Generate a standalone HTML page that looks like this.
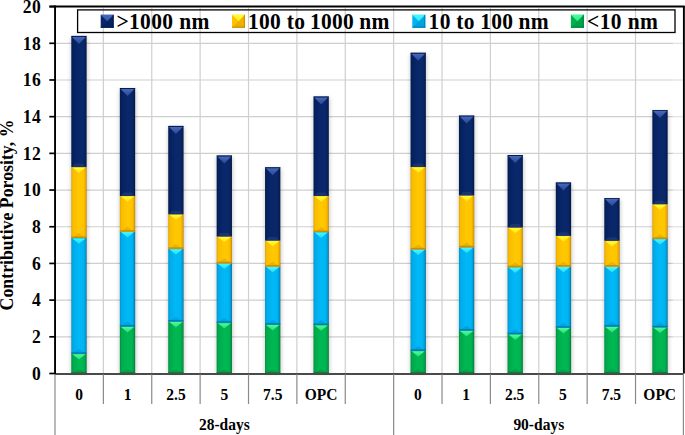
<!DOCTYPE html><html><head><meta charset="utf-8"><style>
html,body{margin:0;padding:0;background:#fff;}body{width:685px;height:435px;overflow:hidden;}
svg{display:block;}text{font-family:"Liberation Serif",serif;font-weight:bold;fill:#000;}
</style></head><body>
<svg width="685" height="435" viewBox="0 0 685 435">
<defs>
<linearGradient id="tg" x1="0" y1="0" x2="0" y2="1"><stop offset="0" stop-color="#48ff98"/><stop offset="1" stop-color="#48ff98" stop-opacity="0.5"/></linearGradient>
<linearGradient id="mg" x1="0" y1="0" x2="0" y2="1"><stop offset="0" stop-color="#48ff98"/><stop offset="1" stop-color="#48ff98" stop-opacity="0.7"/></linearGradient>
<linearGradient id="hg" x1="0" y1="0" x2="1" y2="0"><stop offset="0" stop-color="#008a3e"/><stop offset="0.1" stop-color="#00a94c"/><stop offset="0.5" stop-color="#00b853"/><stop offset="0.8" stop-color="#00b452"/><stop offset="0.93" stop-color="#009c46"/><stop offset="1" stop-color="#00702f"/></linearGradient>
<linearGradient id="tc" x1="0" y1="0" x2="0" y2="1"><stop offset="0" stop-color="#48f8ff"/><stop offset="1" stop-color="#48f8ff" stop-opacity="0.5"/></linearGradient>
<linearGradient id="mc" x1="0" y1="0" x2="0" y2="1"><stop offset="0" stop-color="#48f8ff"/><stop offset="1" stop-color="#48f8ff" stop-opacity="0.7"/></linearGradient>
<linearGradient id="hc" x1="0" y1="0" x2="1" y2="0"><stop offset="0" stop-color="#0090cc"/><stop offset="0.1" stop-color="#00aae8"/><stop offset="0.5" stop-color="#00b9f8"/><stop offset="0.8" stop-color="#00b4f2"/><stop offset="0.93" stop-color="#0098d0"/><stop offset="1" stop-color="#006890"/></linearGradient>
<linearGradient id="ty" x1="0" y1="0" x2="0" y2="1"><stop offset="0" stop-color="#ffff30"/><stop offset="1" stop-color="#ffff30" stop-opacity="0.5"/></linearGradient>
<linearGradient id="my" x1="0" y1="0" x2="0" y2="1"><stop offset="0" stop-color="#ffff30"/><stop offset="1" stop-color="#ffff30" stop-opacity="0.7"/></linearGradient>
<linearGradient id="hy" x1="0" y1="0" x2="1" y2="0"><stop offset="0" stop-color="#dca200"/><stop offset="0.1" stop-color="#f8bc00"/><stop offset="0.5" stop-color="#ffc800"/><stop offset="0.8" stop-color="#ffc400"/><stop offset="0.93" stop-color="#eaa800"/><stop offset="1" stop-color="#b88200"/></linearGradient>
<linearGradient id="tn" x1="0" y1="0" x2="0" y2="1"><stop offset="0" stop-color="#4868bc"/><stop offset="1" stop-color="#4868bc" stop-opacity="0.5"/></linearGradient>
<linearGradient id="mn" x1="0" y1="0" x2="0" y2="1"><stop offset="0" stop-color="#4868bc"/><stop offset="1" stop-color="#4868bc" stop-opacity="0.7"/></linearGradient>
<linearGradient id="hn" x1="0" y1="0" x2="1" y2="0"><stop offset="0" stop-color="#031a50"/><stop offset="0.1" stop-color="#05205e"/><stop offset="0.5" stop-color="#09286c"/><stop offset="0.8" stop-color="#092768"/><stop offset="0.93" stop-color="#051f58"/><stop offset="1" stop-color="#02143c"/></linearGradient>
<filter id="sh" x="-50%" y="-5%" width="200%" height="110%"><feGaussianBlur stdDeviation="1.9"/></filter>
</defs>
<line x1="56" y1="336.81" x2="673.5" y2="336.81" stroke="#cfcfcf" stroke-width="1.2"/>
<line x1="673.5" y1="336.81" x2="683" y2="336.81" stroke="#e2e2e2" stroke-width="1.2"/>
<line x1="56" y1="300.12" x2="673.5" y2="300.12" stroke="#cfcfcf" stroke-width="1.2"/>
<line x1="673.5" y1="300.12" x2="683" y2="300.12" stroke="#e2e2e2" stroke-width="1.2"/>
<line x1="56" y1="263.43" x2="673.5" y2="263.43" stroke="#cfcfcf" stroke-width="1.2"/>
<line x1="673.5" y1="263.43" x2="683" y2="263.43" stroke="#e2e2e2" stroke-width="1.2"/>
<line x1="56" y1="226.74" x2="673.5" y2="226.74" stroke="#cfcfcf" stroke-width="1.2"/>
<line x1="673.5" y1="226.74" x2="683" y2="226.74" stroke="#e2e2e2" stroke-width="1.2"/>
<line x1="56" y1="190.05" x2="673.5" y2="190.05" stroke="#cfcfcf" stroke-width="1.2"/>
<line x1="673.5" y1="190.05" x2="683" y2="190.05" stroke="#e2e2e2" stroke-width="1.2"/>
<line x1="56" y1="153.36" x2="673.5" y2="153.36" stroke="#cfcfcf" stroke-width="1.2"/>
<line x1="673.5" y1="153.36" x2="683" y2="153.36" stroke="#e2e2e2" stroke-width="1.2"/>
<line x1="56" y1="116.67" x2="673.5" y2="116.67" stroke="#cfcfcf" stroke-width="1.2"/>
<line x1="673.5" y1="116.67" x2="683" y2="116.67" stroke="#e2e2e2" stroke-width="1.2"/>
<line x1="56" y1="79.98" x2="673.5" y2="79.98" stroke="#cfcfcf" stroke-width="1.2"/>
<line x1="673.5" y1="79.98" x2="683" y2="79.98" stroke="#e2e2e2" stroke-width="1.2"/>
<line x1="56" y1="43.29" x2="673.5" y2="43.29" stroke="#cfcfcf" stroke-width="1.2"/>
<line x1="673.5" y1="43.29" x2="683" y2="43.29" stroke="#e2e2e2" stroke-width="1.2"/>
<line x1="103.38" y1="7.4" x2="103.38" y2="373" stroke="#cfcfcf" stroke-width="1.2"/>
<line x1="151.75" y1="7.4" x2="151.75" y2="373" stroke="#cfcfcf" stroke-width="1.2"/>
<line x1="200.13" y1="7.4" x2="200.13" y2="373" stroke="#cfcfcf" stroke-width="1.2"/>
<line x1="248.51" y1="7.4" x2="248.51" y2="373" stroke="#cfcfcf" stroke-width="1.2"/>
<line x1="296.88" y1="7.4" x2="296.88" y2="373" stroke="#cfcfcf" stroke-width="1.2"/>
<line x1="345.26" y1="7.4" x2="345.26" y2="373" stroke="#cfcfcf" stroke-width="1.2"/>
<line x1="393.64" y1="7.4" x2="393.64" y2="373" stroke="#cfcfcf" stroke-width="1.2"/>
<line x1="442.02" y1="7.4" x2="442.02" y2="373" stroke="#cfcfcf" stroke-width="1.2"/>
<line x1="490.39" y1="7.4" x2="490.39" y2="373" stroke="#cfcfcf" stroke-width="1.2"/>
<line x1="538.77" y1="7.4" x2="538.77" y2="373" stroke="#cfcfcf" stroke-width="1.2"/>
<line x1="587.15" y1="7.4" x2="587.15" y2="373" stroke="#cfcfcf" stroke-width="1.2"/>
<line x1="635.52" y1="7.4" x2="635.52" y2="373" stroke="#cfcfcf" stroke-width="1.2"/>
<rect x="71.1" y="37.4" width="16.3" height="336.1" fill="#000" opacity="0.22" filter="url(#sh)"/>
<rect x="119.65" y="89.5" width="16.3" height="284" fill="#000" opacity="0.22" filter="url(#sh)"/>
<rect x="168.05" y="127.4" width="16.3" height="246.1" fill="#000" opacity="0.22" filter="url(#sh)"/>
<rect x="216.45" y="156.9" width="16.3" height="216.6" fill="#000" opacity="0.22" filter="url(#sh)"/>
<rect x="264.85" y="168.7" width="16.3" height="204.8" fill="#000" opacity="0.22" filter="url(#sh)"/>
<rect x="313.3" y="97.9" width="16.3" height="275.6" fill="#000" opacity="0.22" filter="url(#sh)"/>
<rect x="410.35" y="54.2" width="16.3" height="319.3" fill="#000" opacity="0.22" filter="url(#sh)"/>
<rect x="458.75" y="117" width="16.3" height="256.5" fill="#000" opacity="0.22" filter="url(#sh)"/>
<rect x="507.35" y="156.5" width="16.3" height="217" fill="#000" opacity="0.22" filter="url(#sh)"/>
<rect x="555.6" y="183.9" width="16.3" height="189.6" fill="#000" opacity="0.22" filter="url(#sh)"/>
<rect x="604.1" y="199.6" width="16.3" height="173.9" fill="#000" opacity="0.22" filter="url(#sh)"/>
<rect x="652.15" y="111.6" width="16.3" height="261.9" fill="#000" opacity="0.22" filter="url(#sh)"/>
<rect x="71.3" y="353.8" width="15.3" height="19.6" fill="url(#hg)"/><polygon points="72.3,373.4 85.6,373.4 78.95,368.4" fill="#007a36" opacity="0.25"/><rect x="71.3" y="371.9" width="15.3" height="1.5" fill="#007a36" opacity="0.75"/><polygon points="72.5,354.2 85.4,354.2 78.95,359.6" fill="url(#tg)"/>
<rect x="71.3" y="238" width="15.3" height="115.8" fill="url(#hc)"/><polygon points="72.3,353.8 85.6,353.8 78.95,348.8" fill="#0078b0" opacity="0.3"/><rect x="71.3" y="352.3" width="15.3" height="1.5" fill="#0070a8" opacity="0.8"/><polygon points="72.5,238.4 85.4,238.4 78.95,243.8" fill="url(#tc)"/>
<rect x="71.3" y="167.1" width="15.3" height="70.9" fill="url(#hy)"/><polygon points="72.3,238 85.6,238 78.95,233" fill="#c08400" opacity="0.3"/><rect x="71.3" y="236.5" width="15.3" height="1.5" fill="#c08400" opacity="0.75"/><polygon points="72.5,167.5 85.4,167.5 78.95,172.9" fill="url(#ty)"/>
<rect x="71.3" y="35.9" width="15.3" height="131.2" fill="url(#hn)"/><polygon points="72.1,167.1 85.8,167.1 83.1,163.6 74.8,163.6" fill="#2a3f78" opacity="0.55"/><polygon points="72.1,36.9 85.8,36.9 78.95,43.9" fill="url(#tn)"/><rect x="71.3" y="35.9" width="15.3" height="0.9" fill="#021238" opacity="0.45"/>
<rect x="119.85" y="326.6" width="15.3" height="46.8" fill="url(#hg)"/><polygon points="120.85,373.4 134.15,373.4 127.5,368.4" fill="#007a36" opacity="0.25"/><rect x="119.85" y="371.9" width="15.3" height="1.5" fill="#007a36" opacity="0.75"/><polygon points="121.05,327 133.95,327 127.5,332.4" fill="url(#tg)"/>
<rect x="119.85" y="231.7" width="15.3" height="94.9" fill="url(#hc)"/><polygon points="120.85,326.6 134.15,326.6 127.5,321.6" fill="#0078b0" opacity="0.3"/><rect x="119.85" y="325.1" width="15.3" height="1.5" fill="#0070a8" opacity="0.8"/><polygon points="121.05,232.1 133.95,232.1 127.5,237.5" fill="url(#tc)"/>
<rect x="119.85" y="196" width="15.3" height="35.7" fill="url(#hy)"/><polygon points="120.85,231.7 134.15,231.7 127.5,226.7" fill="#c08400" opacity="0.3"/><rect x="119.85" y="230.2" width="15.3" height="1.5" fill="#c08400" opacity="0.75"/><polygon points="121.05,196.4 133.95,196.4 127.5,201.8" fill="url(#ty)"/>
<rect x="119.85" y="88" width="15.3" height="108" fill="url(#hn)"/><polygon points="120.65,196 134.35,196 131.65,192.5 123.35,192.5" fill="#2a3f78" opacity="0.55"/><polygon points="120.65,89 134.35,89 127.5,96" fill="url(#tn)"/><rect x="119.85" y="88" width="15.3" height="0.9" fill="#021238" opacity="0.45"/>
<rect x="168.25" y="321.6" width="15.3" height="51.8" fill="url(#hg)"/><polygon points="169.25,373.4 182.55,373.4 175.9,368.4" fill="#007a36" opacity="0.25"/><rect x="168.25" y="371.9" width="15.3" height="1.5" fill="#007a36" opacity="0.75"/><polygon points="169.45,322 182.35,322 175.9,327.4" fill="url(#tg)"/>
<rect x="168.25" y="248.9" width="15.3" height="72.7" fill="url(#hc)"/><polygon points="169.25,321.6 182.55,321.6 175.9,316.6" fill="#0078b0" opacity="0.3"/><rect x="168.25" y="320.1" width="15.3" height="1.5" fill="#0070a8" opacity="0.8"/><polygon points="169.45,249.3 182.35,249.3 175.9,254.7" fill="url(#tc)"/>
<rect x="168.25" y="214.3" width="15.3" height="34.6" fill="url(#hy)"/><polygon points="169.25,248.9 182.55,248.9 175.9,243.9" fill="#c08400" opacity="0.3"/><rect x="168.25" y="247.4" width="15.3" height="1.5" fill="#c08400" opacity="0.75"/><polygon points="169.45,214.7 182.35,214.7 175.9,220.1" fill="url(#ty)"/>
<rect x="168.25" y="125.9" width="15.3" height="88.4" fill="url(#hn)"/><polygon points="169.05,214.3 182.75,214.3 180.05,210.8 171.75,210.8" fill="#2a3f78" opacity="0.55"/><polygon points="169.05,126.9 182.75,126.9 175.9,133.9" fill="url(#tn)"/><rect x="168.25" y="125.9" width="15.3" height="0.9" fill="#021238" opacity="0.45"/>
<rect x="216.65" y="322.8" width="15.3" height="50.6" fill="url(#hg)"/><polygon points="217.65,373.4 230.95,373.4 224.3,368.4" fill="#007a36" opacity="0.25"/><rect x="216.65" y="371.9" width="15.3" height="1.5" fill="#007a36" opacity="0.75"/><polygon points="217.85,323.2 230.75,323.2 224.3,328.6" fill="url(#tg)"/>
<rect x="216.65" y="263.3" width="15.3" height="59.5" fill="url(#hc)"/><polygon points="217.65,322.8 230.95,322.8 224.3,317.8" fill="#0078b0" opacity="0.3"/><rect x="216.65" y="321.3" width="15.3" height="1.5" fill="#0070a8" opacity="0.8"/><polygon points="217.85,263.7 230.75,263.7 224.3,269.1" fill="url(#tc)"/>
<rect x="216.65" y="236.5" width="15.3" height="26.8" fill="url(#hy)"/><polygon points="217.65,263.3 230.95,263.3 224.3,258.3" fill="#c08400" opacity="0.3"/><rect x="216.65" y="261.8" width="15.3" height="1.5" fill="#c08400" opacity="0.75"/><polygon points="217.85,236.9 230.75,236.9 224.3,242.3" fill="url(#ty)"/>
<rect x="216.65" y="155.4" width="15.3" height="81.1" fill="url(#hn)"/><polygon points="217.45,236.5 231.15,236.5 228.45,233 220.15,233" fill="#2a3f78" opacity="0.55"/><polygon points="217.45,156.4 231.15,156.4 224.3,163.4" fill="url(#tn)"/><rect x="216.65" y="155.4" width="15.3" height="0.9" fill="#021238" opacity="0.45"/>
<rect x="265.05" y="324.7" width="15.3" height="48.7" fill="url(#hg)"/><polygon points="266.05,373.4 279.35,373.4 272.7,368.4" fill="#007a36" opacity="0.25"/><rect x="265.05" y="371.9" width="15.3" height="1.5" fill="#007a36" opacity="0.75"/><polygon points="266.25,325.1 279.15,325.1 272.7,330.5" fill="url(#tg)"/>
<rect x="265.05" y="266.6" width="15.3" height="58.1" fill="url(#hc)"/><polygon points="266.05,324.7 279.35,324.7 272.7,319.7" fill="#0078b0" opacity="0.3"/><rect x="265.05" y="323.2" width="15.3" height="1.5" fill="#0070a8" opacity="0.8"/><polygon points="266.25,267 279.15,267 272.7,272.4" fill="url(#tc)"/>
<rect x="265.05" y="240.6" width="15.3" height="26" fill="url(#hy)"/><polygon points="266.05,266.6 279.35,266.6 272.7,261.6" fill="#c08400" opacity="0.3"/><rect x="265.05" y="265.1" width="15.3" height="1.5" fill="#c08400" opacity="0.75"/><polygon points="266.25,241 279.15,241 272.7,246.4" fill="url(#ty)"/>
<rect x="265.05" y="167.2" width="15.3" height="73.4" fill="url(#hn)"/><polygon points="265.85,240.6 279.55,240.6 276.85,237.1 268.55,237.1" fill="#2a3f78" opacity="0.55"/><polygon points="265.85,168.2 279.55,168.2 272.7,175.2" fill="url(#tn)"/><rect x="265.05" y="167.2" width="15.3" height="0.9" fill="#021238" opacity="0.45"/>
<rect x="313.5" y="325" width="15.3" height="48.4" fill="url(#hg)"/><polygon points="314.5,373.4 327.8,373.4 321.15,368.4" fill="#007a36" opacity="0.25"/><rect x="313.5" y="371.9" width="15.3" height="1.5" fill="#007a36" opacity="0.75"/><polygon points="314.7,325.4 327.6,325.4 321.15,330.8" fill="url(#tg)"/>
<rect x="313.5" y="232.1" width="15.3" height="92.9" fill="url(#hc)"/><polygon points="314.5,325 327.8,325 321.15,320" fill="#0078b0" opacity="0.3"/><rect x="313.5" y="323.5" width="15.3" height="1.5" fill="#0070a8" opacity="0.8"/><polygon points="314.7,232.5 327.6,232.5 321.15,237.9" fill="url(#tc)"/>
<rect x="313.5" y="196" width="15.3" height="36.1" fill="url(#hy)"/><polygon points="314.5,232.1 327.8,232.1 321.15,227.1" fill="#c08400" opacity="0.3"/><rect x="313.5" y="230.6" width="15.3" height="1.5" fill="#c08400" opacity="0.75"/><polygon points="314.7,196.4 327.6,196.4 321.15,201.8" fill="url(#ty)"/>
<rect x="313.5" y="96.4" width="15.3" height="99.6" fill="url(#hn)"/><polygon points="314.3,196 328,196 325.3,192.5 317,192.5" fill="#2a3f78" opacity="0.55"/><polygon points="314.3,97.4 328,97.4 321.15,104.4" fill="url(#tn)"/><rect x="313.5" y="96.4" width="15.3" height="0.9" fill="#021238" opacity="0.45"/>
<rect x="410.55" y="350.9" width="15.3" height="22.5" fill="url(#hg)"/><polygon points="411.55,373.4 424.85,373.4 418.2,368.4" fill="#007a36" opacity="0.25"/><rect x="410.55" y="371.9" width="15.3" height="1.5" fill="#007a36" opacity="0.75"/><polygon points="411.75,351.3 424.65,351.3 418.2,356.7" fill="url(#tg)"/>
<rect x="410.55" y="249.4" width="15.3" height="101.5" fill="url(#hc)"/><polygon points="411.55,350.9 424.85,350.9 418.2,345.9" fill="#0078b0" opacity="0.3"/><rect x="410.55" y="349.4" width="15.3" height="1.5" fill="#0070a8" opacity="0.8"/><polygon points="411.75,249.8 424.65,249.8 418.2,255.2" fill="url(#tc)"/>
<rect x="410.55" y="167" width="15.3" height="82.4" fill="url(#hy)"/><polygon points="411.55,249.4 424.85,249.4 418.2,244.4" fill="#c08400" opacity="0.3"/><rect x="410.55" y="247.9" width="15.3" height="1.5" fill="#c08400" opacity="0.75"/><polygon points="411.75,167.4 424.65,167.4 418.2,172.8" fill="url(#ty)"/>
<rect x="410.55" y="52.7" width="15.3" height="114.3" fill="url(#hn)"/><polygon points="411.35,167 425.05,167 422.35,163.5 414.05,163.5" fill="#2a3f78" opacity="0.55"/><polygon points="411.35,53.7 425.05,53.7 418.2,60.7" fill="url(#tn)"/><rect x="410.55" y="52.7" width="15.3" height="0.9" fill="#021238" opacity="0.45"/>
<rect x="458.95" y="330.6" width="15.3" height="42.8" fill="url(#hg)"/><polygon points="459.95,373.4 473.25,373.4 466.6,368.4" fill="#007a36" opacity="0.25"/><rect x="458.95" y="371.9" width="15.3" height="1.5" fill="#007a36" opacity="0.75"/><polygon points="460.15,331 473.05,331 466.6,336.4" fill="url(#tg)"/>
<rect x="458.95" y="247.3" width="15.3" height="83.3" fill="url(#hc)"/><polygon points="459.95,330.6 473.25,330.6 466.6,325.6" fill="#0078b0" opacity="0.3"/><rect x="458.95" y="329.1" width="15.3" height="1.5" fill="#0070a8" opacity="0.8"/><polygon points="460.15,247.7 473.05,247.7 466.6,253.1" fill="url(#tc)"/>
<rect x="458.95" y="195.4" width="15.3" height="51.9" fill="url(#hy)"/><polygon points="459.95,247.3 473.25,247.3 466.6,242.3" fill="#c08400" opacity="0.3"/><rect x="458.95" y="245.8" width="15.3" height="1.5" fill="#c08400" opacity="0.75"/><polygon points="460.15,195.8 473.05,195.8 466.6,201.2" fill="url(#ty)"/>
<rect x="458.95" y="115.5" width="15.3" height="79.9" fill="url(#hn)"/><polygon points="459.75,195.4 473.45,195.4 470.75,191.9 462.45,191.9" fill="#2a3f78" opacity="0.55"/><polygon points="459.75,116.5 473.45,116.5 466.6,123.5" fill="url(#tn)"/><rect x="458.95" y="115.5" width="15.3" height="0.9" fill="#021238" opacity="0.45"/>
<rect x="507.55" y="334.2" width="15.3" height="39.2" fill="url(#hg)"/><polygon points="508.55,373.4 521.85,373.4 515.2,368.4" fill="#007a36" opacity="0.25"/><rect x="507.55" y="371.9" width="15.3" height="1.5" fill="#007a36" opacity="0.75"/><polygon points="508.75,334.6 521.65,334.6 515.2,340" fill="url(#tg)"/>
<rect x="507.55" y="267.2" width="15.3" height="67" fill="url(#hc)"/><polygon points="508.55,334.2 521.85,334.2 515.2,329.2" fill="#0078b0" opacity="0.3"/><rect x="507.55" y="332.7" width="15.3" height="1.5" fill="#0070a8" opacity="0.8"/><polygon points="508.75,267.6 521.65,267.6 515.2,273" fill="url(#tc)"/>
<rect x="507.55" y="227.5" width="15.3" height="39.7" fill="url(#hy)"/><polygon points="508.55,267.2 521.85,267.2 515.2,262.2" fill="#c08400" opacity="0.3"/><rect x="507.55" y="265.7" width="15.3" height="1.5" fill="#c08400" opacity="0.75"/><polygon points="508.75,227.9 521.65,227.9 515.2,233.3" fill="url(#ty)"/>
<rect x="507.55" y="155" width="15.3" height="72.5" fill="url(#hn)"/><polygon points="508.35,227.5 522.05,227.5 519.35,224 511.05,224" fill="#2a3f78" opacity="0.55"/><polygon points="508.35,156 522.05,156 515.2,163" fill="url(#tn)"/><rect x="507.55" y="155" width="15.3" height="0.9" fill="#021238" opacity="0.45"/>
<rect x="555.8" y="327.7" width="15.3" height="45.7" fill="url(#hg)"/><polygon points="556.8,373.4 570.1,373.4 563.45,368.4" fill="#007a36" opacity="0.25"/><rect x="555.8" y="371.9" width="15.3" height="1.5" fill="#007a36" opacity="0.75"/><polygon points="557,328.1 569.9,328.1 563.45,333.5" fill="url(#tg)"/>
<rect x="555.8" y="266.6" width="15.3" height="61.1" fill="url(#hc)"/><polygon points="556.8,327.7 570.1,327.7 563.45,322.7" fill="#0078b0" opacity="0.3"/><rect x="555.8" y="326.2" width="15.3" height="1.5" fill="#0070a8" opacity="0.8"/><polygon points="557,267 569.9,267 563.45,272.4" fill="url(#tc)"/>
<rect x="555.8" y="235.9" width="15.3" height="30.7" fill="url(#hy)"/><polygon points="556.8,266.6 570.1,266.6 563.45,261.6" fill="#c08400" opacity="0.3"/><rect x="555.8" y="265.1" width="15.3" height="1.5" fill="#c08400" opacity="0.75"/><polygon points="557,236.3 569.9,236.3 563.45,241.7" fill="url(#ty)"/>
<rect x="555.8" y="182.4" width="15.3" height="53.5" fill="url(#hn)"/><polygon points="556.6,235.9 570.3,235.9 567.6,232.4 559.3,232.4" fill="#2a3f78" opacity="0.55"/><polygon points="556.6,183.4 570.3,183.4 563.45,190.4" fill="url(#tn)"/><rect x="555.8" y="182.4" width="15.3" height="0.9" fill="#021238" opacity="0.45"/>
<rect x="604.3" y="326.6" width="15.3" height="46.8" fill="url(#hg)"/><polygon points="605.3,373.4 618.6,373.4 611.95,368.4" fill="#007a36" opacity="0.25"/><rect x="604.3" y="371.9" width="15.3" height="1.5" fill="#007a36" opacity="0.75"/><polygon points="605.5,327 618.4,327 611.95,332.4" fill="url(#tg)"/>
<rect x="604.3" y="266.6" width="15.3" height="60" fill="url(#hc)"/><polygon points="605.3,326.6 618.6,326.6 611.95,321.6" fill="#0078b0" opacity="0.3"/><rect x="604.3" y="325.1" width="15.3" height="1.5" fill="#0070a8" opacity="0.8"/><polygon points="605.5,267 618.4,267 611.95,272.4" fill="url(#tc)"/>
<rect x="604.3" y="240.8" width="15.3" height="25.8" fill="url(#hy)"/><polygon points="605.3,266.6 618.6,266.6 611.95,261.6" fill="#c08400" opacity="0.3"/><rect x="604.3" y="265.1" width="15.3" height="1.5" fill="#c08400" opacity="0.75"/><polygon points="605.5,241.2 618.4,241.2 611.95,246.6" fill="url(#ty)"/>
<rect x="604.3" y="198.1" width="15.3" height="42.7" fill="url(#hn)"/><polygon points="605.1,240.8 618.8,240.8 616.1,237.3 607.8,237.3" fill="#2a3f78" opacity="0.55"/><polygon points="605.1,199.1 618.8,199.1 611.95,206.1" fill="url(#tn)"/><rect x="604.3" y="198.1" width="15.3" height="0.9" fill="#021238" opacity="0.45"/>
<rect x="652.35" y="327.3" width="15.3" height="46.1" fill="url(#hg)"/><polygon points="653.35,373.4 666.65,373.4 660,368.4" fill="#007a36" opacity="0.25"/><rect x="652.35" y="371.9" width="15.3" height="1.5" fill="#007a36" opacity="0.75"/><polygon points="653.55,327.7 666.45,327.7 660,333.1" fill="url(#tg)"/>
<rect x="652.35" y="238.9" width="15.3" height="88.4" fill="url(#hc)"/><polygon points="653.35,327.3 666.65,327.3 660,322.3" fill="#0078b0" opacity="0.3"/><rect x="652.35" y="325.8" width="15.3" height="1.5" fill="#0070a8" opacity="0.8"/><polygon points="653.55,239.3 666.45,239.3 660,244.7" fill="url(#tc)"/>
<rect x="652.35" y="204.2" width="15.3" height="34.7" fill="url(#hy)"/><polygon points="653.35,238.9 666.65,238.9 660,233.9" fill="#c08400" opacity="0.3"/><rect x="652.35" y="237.4" width="15.3" height="1.5" fill="#c08400" opacity="0.75"/><polygon points="653.55,204.6 666.45,204.6 660,210" fill="url(#ty)"/>
<rect x="652.35" y="110.1" width="15.3" height="94.1" fill="url(#hn)"/><polygon points="653.15,204.2 666.85,204.2 664.15,200.7 655.85,200.7" fill="#2a3f78" opacity="0.55"/><polygon points="653.15,111.1 666.85,111.1 660,118.1" fill="url(#tn)"/><rect x="652.35" y="110.1" width="15.3" height="0.9" fill="#021238" opacity="0.45"/>
<line x1="55" y1="374.0" x2="684" y2="374.0" stroke="#4a4a4a" stroke-width="1.8"/>
<line x1="55.05" y1="5.6" x2="55.05" y2="374.3" stroke="#000" stroke-width="1.9"/>
<line x1="49.5" y1="6.5" x2="684.8" y2="6.5" stroke="#000" stroke-width="1.8"/>
<line x1="683.9" y1="5.9" x2="683.9" y2="373.4" stroke="#000" stroke-width="1.9"/>
<line x1="683.4" y1="373.4" x2="683.4" y2="435" stroke="#8a8a8a" stroke-width="1.2"/>
<line x1="49.3" y1="373.5" x2="55" y2="373.5" stroke="#000" stroke-width="1.7"/>
<text transform="translate(41.4,379.8) scale(1,1.07)" font-size="17.6" letter-spacing="0.5" text-anchor="end">0</text>
<line x1="49.3" y1="336.81" x2="55" y2="336.81" stroke="#000" stroke-width="1.7"/>
<text transform="translate(41.4,343.11) scale(1,1.07)" font-size="17.6" letter-spacing="0.5" text-anchor="end">2</text>
<line x1="49.3" y1="300.12" x2="55" y2="300.12" stroke="#000" stroke-width="1.7"/>
<text transform="translate(41.4,306.42) scale(1,1.07)" font-size="17.6" letter-spacing="0.5" text-anchor="end">4</text>
<line x1="49.3" y1="263.43" x2="55" y2="263.43" stroke="#000" stroke-width="1.7"/>
<text transform="translate(41.4,269.73) scale(1,1.07)" font-size="17.6" letter-spacing="0.5" text-anchor="end">6</text>
<line x1="49.3" y1="226.74" x2="55" y2="226.74" stroke="#000" stroke-width="1.7"/>
<text transform="translate(41.4,233.04) scale(1,1.07)" font-size="17.6" letter-spacing="0.5" text-anchor="end">8</text>
<line x1="49.3" y1="190.05" x2="55" y2="190.05" stroke="#000" stroke-width="1.7"/>
<text transform="translate(41.4,196.35) scale(1,1.07)" font-size="17.6" letter-spacing="0.5" text-anchor="end">10</text>
<line x1="49.3" y1="153.36" x2="55" y2="153.36" stroke="#000" stroke-width="1.7"/>
<text transform="translate(41.4,159.66) scale(1,1.07)" font-size="17.6" letter-spacing="0.5" text-anchor="end">12</text>
<line x1="49.3" y1="116.67" x2="55" y2="116.67" stroke="#000" stroke-width="1.7"/>
<text transform="translate(41.4,122.97) scale(1,1.07)" font-size="17.6" letter-spacing="0.5" text-anchor="end">14</text>
<line x1="49.3" y1="79.98" x2="55" y2="79.98" stroke="#000" stroke-width="1.7"/>
<text transform="translate(41.4,86.28) scale(1,1.07)" font-size="17.6" letter-spacing="0.5" text-anchor="end">16</text>
<line x1="49.3" y1="43.29" x2="55" y2="43.29" stroke="#000" stroke-width="1.7"/>
<text transform="translate(41.4,49.59) scale(1,1.07)" font-size="17.6" letter-spacing="0.5" text-anchor="end">18</text>
<line x1="49.3" y1="6.6" x2="55" y2="6.6" stroke="#000" stroke-width="1.7"/>
<text transform="translate(41.4,12.9) scale(1,1.07)" font-size="17.6" letter-spacing="0.5" text-anchor="end">20</text>
<line x1="55" y1="374.3" x2="55" y2="435" stroke="#8a8a8a" stroke-width="1.2"/>
<line x1="103.38" y1="374.3" x2="103.38" y2="404" stroke="#8a8a8a" stroke-width="1.2"/>
<line x1="151.75" y1="374.3" x2="151.75" y2="404" stroke="#8a8a8a" stroke-width="1.2"/>
<line x1="200.13" y1="374.3" x2="200.13" y2="404" stroke="#8a8a8a" stroke-width="1.2"/>
<line x1="248.51" y1="374.3" x2="248.51" y2="404" stroke="#8a8a8a" stroke-width="1.2"/>
<line x1="296.88" y1="374.3" x2="296.88" y2="404" stroke="#8a8a8a" stroke-width="1.2"/>
<line x1="345.26" y1="374.3" x2="345.26" y2="404" stroke="#8a8a8a" stroke-width="1.2"/>
<line x1="393.64" y1="374.3" x2="393.64" y2="435" stroke="#8a8a8a" stroke-width="1.2"/>
<line x1="442.02" y1="374.3" x2="442.02" y2="404" stroke="#8a8a8a" stroke-width="1.2"/>
<line x1="490.39" y1="374.3" x2="490.39" y2="404" stroke="#8a8a8a" stroke-width="1.2"/>
<line x1="538.77" y1="374.3" x2="538.77" y2="404" stroke="#8a8a8a" stroke-width="1.2"/>
<line x1="587.15" y1="374.3" x2="587.15" y2="404" stroke="#8a8a8a" stroke-width="1.2"/>
<line x1="635.52" y1="374.3" x2="635.52" y2="404" stroke="#8a8a8a" stroke-width="1.2"/>
<text transform="translate(79.19,400.2) scale(1,1.07)" font-size="15.5" text-anchor="middle">0</text>
<text transform="translate(127.57,400.2) scale(1,1.07)" font-size="15.5" text-anchor="middle">1</text>
<text transform="translate(175.94,400.2) scale(1,1.07)" font-size="15.5" text-anchor="middle">2.5</text>
<text transform="translate(224.32,400.2) scale(1,1.07)" font-size="15.5" text-anchor="middle">5</text>
<text transform="translate(272.7,400.2) scale(1,1.07)" font-size="15.5" text-anchor="middle">7.5</text>
<text transform="translate(321.07,400.2) scale(1,1.07)" font-size="15.5" text-anchor="middle">OPC</text>
<text transform="translate(417.83,400.2) scale(1,1.07)" font-size="15.5" text-anchor="middle">0</text>
<text transform="translate(466.2,400.2) scale(1,1.07)" font-size="15.5" text-anchor="middle">1</text>
<text transform="translate(514.58,400.2) scale(1,1.07)" font-size="15.5" text-anchor="middle">2.5</text>
<text transform="translate(562.96,400.2) scale(1,1.07)" font-size="15.5" text-anchor="middle">5</text>
<text transform="translate(611.33,400.2) scale(1,1.07)" font-size="15.5" text-anchor="middle">7.5</text>
<text transform="translate(659.71,400.2) scale(1,1.07)" font-size="15.5" text-anchor="middle">OPC</text>
<text transform="translate(224.32,430.2) scale(1,1.07)" font-size="15.5" text-anchor="middle">28-days</text>
<text transform="translate(538.77,430.2) scale(1,1.07)" font-size="15.5" text-anchor="middle">90-days</text>
<text transform="translate(12.6,215) rotate(-90)" font-size="17.8" text-anchor="middle">Contributive Porosity, %</text>
<rect x="77.6" y="9.9" width="597.4" height="22.6" fill="none" stroke="#000" stroke-width="1.3"/>
<rect x="100.7" y="14.8" width="13" height="13" fill="#08266a"/>
<polygon points="100.7,27.8 113.7,27.8 107.2,21.3" fill="#031848" opacity="0.3"/>
<polygon points="113.7,14.8 113.7,27.8 107.2,21.3" fill="#031848" opacity="0.2"/>
<polygon points="100.7,14.8 113.7,14.8 107.2,21.3" fill="url(#mn)"/>
<rect x="112.5" y="14.8" width="1.2" height="13" fill="#031848" opacity="0.7"/>
<rect x="100.7" y="26.6" width="13" height="1.2" fill="#031848" opacity="0.7"/>
<rect x="232" y="14.8" width="13" height="13" fill="#ffc000"/>
<polygon points="232,27.8 245,27.8 238.5,21.3" fill="#c08400" opacity="0.3"/>
<polygon points="245,14.8 245,27.8 238.5,21.3" fill="#c08400" opacity="0.2"/>
<polygon points="232,14.8 245,14.8 238.5,21.3" fill="url(#my)"/>
<rect x="243.8" y="14.8" width="1.2" height="13" fill="#c08400" opacity="0.7"/>
<rect x="232" y="26.6" width="13" height="1.2" fill="#c08400" opacity="0.7"/>
<rect x="412.3" y="14.8" width="13" height="13" fill="#00b4f0"/>
<polygon points="412.3,27.8 425.3,27.8 418.8,21.3" fill="#0078b0" opacity="0.3"/>
<polygon points="425.3,14.8 425.3,27.8 418.8,21.3" fill="#0078b0" opacity="0.2"/>
<polygon points="412.3,14.8 425.3,14.8 418.8,21.3" fill="url(#mc)"/>
<rect x="424.1" y="14.8" width="1.2" height="13" fill="#0078b0" opacity="0.7"/>
<rect x="412.3" y="26.6" width="13" height="1.2" fill="#0078b0" opacity="0.7"/>
<rect x="570.9" y="14.8" width="13" height="13" fill="#00b050"/>
<polygon points="570.9,27.8 583.9,27.8 577.4,21.3" fill="#007a36" opacity="0.3"/>
<polygon points="583.9,14.8 583.9,27.8 577.4,21.3" fill="#007a36" opacity="0.2"/>
<polygon points="570.9,14.8 583.9,14.8 577.4,21.3" fill="url(#mg)"/>
<rect x="582.7" y="14.8" width="1.2" height="13" fill="#007a36" opacity="0.7"/>
<rect x="570.9" y="26.6" width="13" height="1.2" fill="#007a36" opacity="0.7"/>
<text transform="translate(116.5,28.6) scale(1,1.07)" font-size="21.5" letter-spacing="0.3">&gt;1000</text>
<text transform="translate(179.2,28.6) scale(1,1.07)" font-size="21.5" letter-spacing="0.3">nm</text>
<text transform="translate(247.9,28.6) scale(1,1.07)" font-size="21.5" letter-spacing="0.3">100</text>
<text transform="translate(286.7,28.6) scale(1,1.07)" font-size="21.5" letter-spacing="0.3">to</text>
<text transform="translate(309.9,28.6) scale(1,1.07)" font-size="21.5" letter-spacing="0.3">1000</text>
<text transform="translate(359.2,28.6) scale(1,1.07)" font-size="21.5" letter-spacing="0.3">nm</text>
<text transform="translate(428.6,28.6) scale(1,1.07)" font-size="21.5" letter-spacing="0.3">10</text>
<text transform="translate(456.2,28.6) scale(1,1.07)" font-size="21.5" letter-spacing="0.3">to</text>
<text transform="translate(480.2,28.6) scale(1,1.07)" font-size="21.5" letter-spacing="0.3">100</text>
<text transform="translate(518.4,28.6) scale(1,1.07)" font-size="21.5" letter-spacing="0.3">nm</text>
<text transform="translate(587.1,28.6) scale(1,1.07)" font-size="21.5" letter-spacing="0.3">&lt;10</text>
<text transform="translate(627.8,28.6) scale(1,1.07)" font-size="21.5" letter-spacing="0.3">nm</text>
</svg></body></html>
